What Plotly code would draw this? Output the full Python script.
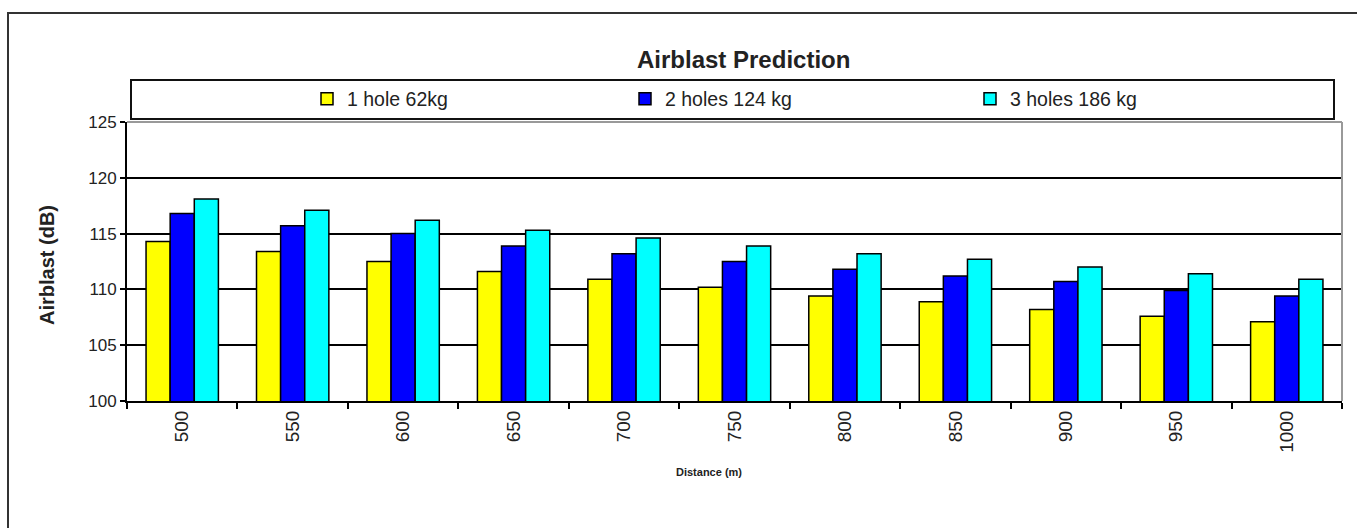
import plotly.graph_objects as go

distances = ["500", "550", "600", "650", "700", "750", "800", "850", "900", "950", "1000"]
one_hole = [114.3, 113.4, 112.5, 111.6, 110.9, 110.2, 109.4, 108.9, 108.2, 107.6, 107.1]
two_holes = [116.8, 115.7, 115.0, 113.9, 113.2, 112.5, 111.8, 111.2, 110.7, 109.9, 109.4]
three_holes = [118.1, 117.1, 116.2, 115.3, 114.6, 113.9, 113.2, 112.7, 112.0, 111.4, 110.9]
series_names = ["1 hole 62kg", "2 holes 124 kg", "3 holes 186 kg"]
series_colors = ["#FFFF00", "#0000FF", "#00FFFF"]

W, H = 1357, 528
L, R, T, B = 127, 1342, 122, 401


def px(x):
    return (x - L) / (R - L)


def py(y):
    return (B - y) / (B - T)


FONT = "Liberation Sans, Arial, sans-serif"

fig = go.Figure()
legend_names = ["legend", "legend2", "legend3"]
for vals, name, col, lg in zip([one_hole, two_holes, three_holes], series_names, series_colors, legend_names):
    fig.add_trace(go.Bar(
        x=distances, y=vals, name=name, legend=lg,
        marker=dict(color=col, line=dict(color="#000000", width=1.5)),
    ))

legend_starts = [307, 625, 970]
leg_common = dict(orientation="h", yanchor="middle", y=py(99), xanchor="left",
                  bgcolor="rgba(0,0,0,0)", borderwidth=0,
                  font=dict(family=FONT, size=19.5, color="#222222"))
fig.update_layout(
    legend=dict(x=px(legend_starts[0]), **leg_common),
    legend2=dict(x=px(legend_starts[1]), **leg_common),
    legend3=dict(x=px(legend_starts[2]), **leg_common),
)

fig.update_layout(
    width=W, height=H,
    margin=dict(l=L, r=W - R, t=T, b=H - B, pad=0),
    paper_bgcolor="white", plot_bgcolor="white",
    barmode="group", bargap=0.345, bargroupgap=0,
    showlegend=True,
    font=dict(family=FONT, color="#222222"),
    xaxis=dict(
        type="category", tickson="boundaries", ticks="outside", ticklen=6,
        tickcolor="#000", tickwidth=1.5, showline=True, linecolor="#000", linewidth=2,
        tickangle=-90, tickfont=dict(size=19, family=FONT, color="#222222"),
        showgrid=False, zeroline=False,
    ),
    yaxis=dict(
        range=[100, 125], dtick=5, tick0=100, ticks="outside", ticklen=5,
        tickcolor="#000", tickwidth=1.5, showline=True, linecolor="#000", linewidth=2,
        showgrid=True, gridcolor="#000", gridwidth=1.5, zeroline=False,
        tickfont=dict(size=17, family=FONT, color="#222222"),
    ),
    shapes=[
        # outer chart border (only top and left visible in frame)
        dict(type="rect", xref="paper", yref="paper",
             x0=px(8), x1=px(1420), y0=py(13), y1=py(600),
             line=dict(color="#333333", width=2), layer="above"),
        # legend box
        dict(type="rect", xref="paper", yref="paper",
             x0=px(131), x1=px(1334), y0=py(80), y1=py(119),
             line=dict(color="#111111", width=2), layer="above"),
        # plot area top/right gray border
        dict(type="line", xref="paper", yref="paper", x0=0, x1=1, y0=1, y1=1,
             line=dict(color="#999999", width=2), layer="above"),
        dict(type="line", xref="paper", yref="paper", x0=1, x1=1, y0=0, y1=1,
             line=dict(color="#999999", width=2), layer="above"),
    ],
    annotations=[
        dict(text="<b>Airblast Prediction</b>", xref="paper", yref="paper",
             x=px(743), y=py(60), xanchor="center", yanchor="middle", showarrow=False,
             font=dict(size=24, family=FONT, color="#222222")),
        dict(text="<b>Airblast (dB)</b>", xref="paper", yref="paper",
             x=px(47), y=py(265), xanchor="center", yanchor="middle", showarrow=False,
             textangle=-90, font=dict(size=20, family=FONT, color="#222222")),
        dict(text="<b>Distance (m)</b>", xref="paper", yref="paper",
             x=px(709), y=py(472), xanchor="center", yanchor="middle", showarrow=False,
             font=dict(size=11, family=FONT, color="#222222")),
    ],
)

fig.write_html("out.html")
